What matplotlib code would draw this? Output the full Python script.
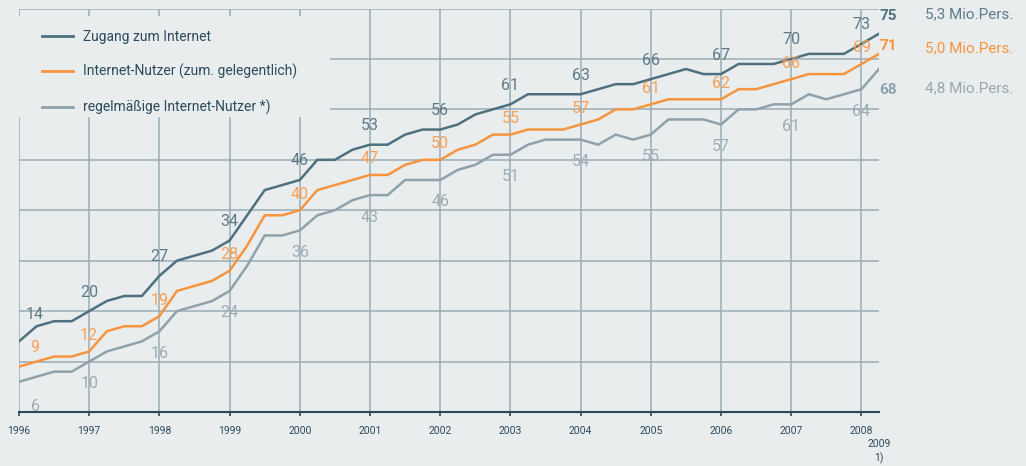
import numpy as np
import matplotlib.pyplot as plt
from matplotlib.patches import Rectangle

# quarterly values, 1996 Q1 .. 2009 Q1 (percent)
zugang = [14, 17, 18, 18, 20, 22, 23, 23, 27, 30, 31, 32, 34, 39, 44, 45,
          46, 50, 50, 52, 53, 53, 55, 56, 56, 57, 59, 60, 61, 63, 63, 63,
          63, 64, 65, 65, 66, 67, 68, 67, 67, 69, 69, 69, 70, 71, 71, 71,
          73, 75]
nutzer = [9, 10, 11, 11, 12, 16, 17, 17, 19, 24, 25, 26, 28, 33, 39, 39,
          40, 44, 45, 46, 47, 47, 49, 50, 50, 52, 53, 55, 55, 56, 56, 56,
          57, 58, 60, 60, 61, 62, 62, 62, 62, 64, 64, 65, 66, 67, 67, 67,
          69, 71]
regelm = [6, 7, 8, 8, 10, 12, 13, 14, 16, 20, 21, 22, 24, 29, 35, 35,
          36, 39, 40, 42, 43, 43, 46, 46, 46, 48, 49, 51, 51, 53, 54, 54,
          54, 53, 55, 54, 55, 58, 58, 58, 57, 60, 60, 61, 61, 63, 62, 63,
          64, 68]

years = list(range(1996, 2009))
quarters = [1996 + i / 4 for i in range(len(zugang))]

names = ["Zugang zum Internet",
         "Internet-Nutzer (zum. gelegentlich)",
         "regelmäßige Internet-Nutzer *)"]
mio = ["5,3 Mio.Pers.", "5,0 Mio.Pers.", "4,8 Mio.Pers."]

bg = "#e9edee"
grid_c = "#9aabb4"
axis_c = "#2c4a5c"
line_c = ["#4f717f", "#f7953e", "#8fa1ab"]
lab_c = ["#5f7a87", "#f9a056", "#9eadb5"]
mio_c = ["#5f7b88", "#f7953e", "#98a8b0"]

plt.rcParams['font.family'] = ['Roboto', 'DejaVu Sans']

fig = plt.figure(figsize=(10.26, 4.66), dpi=100, facecolor=bg)
ax = fig.add_axes([19 / 1026, 54 / 466, 860 / 1026, 403.5 / 466])
ax.set_facecolor(bg)
ax.set_xlim(1996, 2008.25)
ax.set_ylim(0, 80)

# grid
for y in range(10, 81, 10):
    ax.axhline(y, color=grid_c, lw=1.1, zorder=1)
for yr in years:
    ax.axvline(yr, color=grid_c, lw=1.1, zorder=1)

for s in ['top', 'right', 'left']:
    ax.spines[s].set_visible(False)
ax.spines['bottom'].set_color(axis_c)
ax.spines['bottom'].set_linewidth(1.5)
ax.spines['bottom'].set_zorder(5)
ax.set_yticks([])
ax.set_xticks(years)
ax.set_xticklabels([str(y) for y in years], fontsize=7.5, color=axis_c)
ax.tick_params(axis='x', length=3, width=1.2, color=axis_c, pad=7)
ax.annotate("2009\n1)", xy=(2008.25, 0), xycoords=('data', 'axes fraction'),
            xytext=(0, -27), textcoords='offset pixels', ha='center', va='top',
            fontsize=7.5, color=axis_c, linespacing=1.4)

# legend background covering the grid
ax.add_patch(Rectangle((0, 0.731), 0.3616, 0.25, transform=ax.transAxes,
                       facecolor=bg, edgecolor='none', zorder=2))

series = [zugang, nutzer, regelm]
offsets = [19, 16, -22]
first_dy = [27, 19, -25]
for vals, name, lc, tc, dy, dy0 in zip(series, names, line_c, lab_c,
                                       offsets, first_dy):
    ax.plot(quarters, vals, color=lc, lw=1.8, label=name, zorder=3,
            solid_joinstyle='miter')
    for k, yr in enumerate(years):
        i = quarters.index(yr)
        off = (16, dy0) if k == 0 else (0, dy)
        ax.annotate(str(vals[i]), xy=(yr, vals[i]), xytext=off,
                    textcoords='offset pixels', ha='center', va='center',
                    fontsize=11.5, color=tc, zorder=4)

# bold end values
end_dy = [18, 8, -21]
for vals, lc, dy in zip(series, line_c, end_dy):
    ax.annotate(str(vals[-1]), xy=(quarters[-1], vals[-1]), xytext=(0, dy),
                textcoords='offset pixels', ha='left', va='center',
                fontsize=11, fontweight='bold', color=lc,
                annotation_clip=False)

for txt, c, yp in zip(mio, mio_c, [14, 48, 88]):
    fig.text(925 / 1026, 1 - yp / 466, txt, fontsize=11,
             color=c, ha='left', va='center')

leg = ax.legend(loc='upper left', bbox_to_anchor=(42 / 1026, 1 - 30 / 466),
                bbox_transform=fig.transFigure, frameon=False, fontsize=10,
                handlelength=2.2, handletextpad=0.75, labelspacing=1.45,
                borderaxespad=0, borderpad=0)
for t in leg.get_texts():
    t.set_color(axis_c)
for h in leg.legend_handles:
    h.set_linewidth(2)

fig.savefig("out.png", dpi=100, facecolor=bg)
